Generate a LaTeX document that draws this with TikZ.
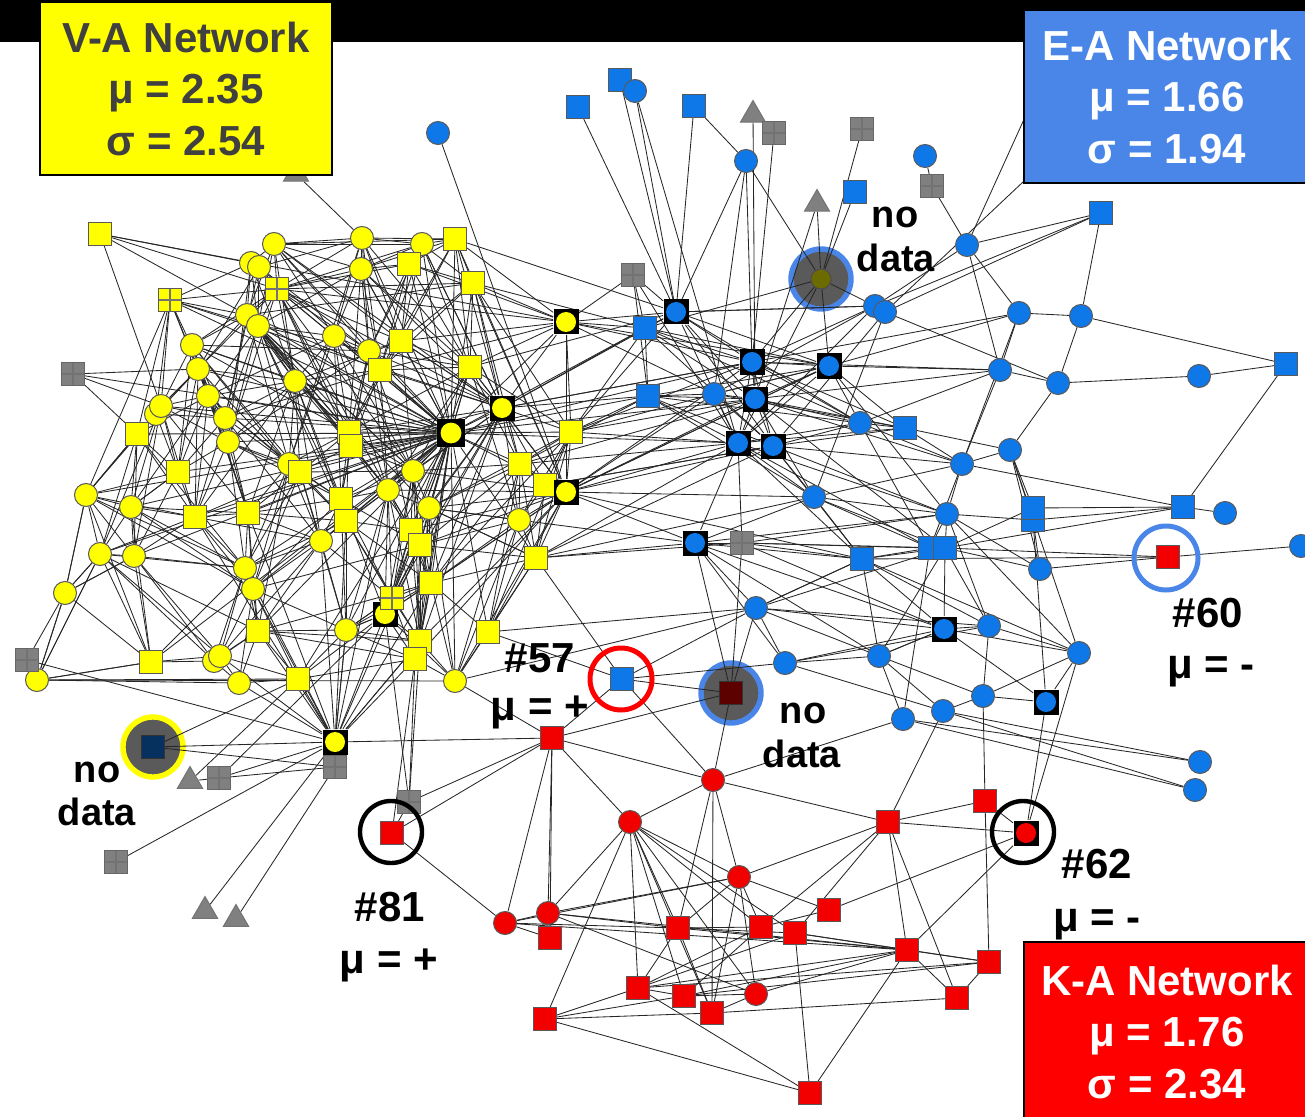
\documentclass[tikz,border=0pt]{standalone}
\usepackage{fontspec}
\setmainfont{Liberation Sans}
\usetikzlibrary{shapes.geometric}
\pgfdeclarelayer{back}\pgfdeclarelayer{edges}\pgfdeclarelayer{front}
\pgfsetlayers{back,edges,main,front}
\definecolor{nodeY}{HTML}{FFFF00}
\definecolor{nodeB}{HTML}{0F78E8}
\definecolor{nodeR}{HTML}{F20000}
\definecolor{boxB}{HTML}{4A86E8}
\definecolor{gridG}{HTML}{808080}
\definecolor{discG}{HTML}{5A5A5A}
\definecolor{oliveD}{HTML}{6B6B00}
\definecolor{navyD}{HTML}{06305E}
\definecolor{maroonD}{HTML}{5C0000}
\definecolor{txtG}{HTML}{404040}
\tikzset{
 nd/.style={inner sep=0pt, line width=0.5pt, draw=black!65},
 sq/.style={nd, rectangle, minimum size=11.5pt},
 ci/.style={nd, circle, minimum size=11.5pt},
 gridlines/.style={path picture={\draw[black!55,line width=0.6pt] (path picture bounding box.north)--(path picture bounding box.south) (path picture bounding box.west)--(path picture bounding box.east);}},
 ysq/.style={sq, fill=nodeY},
 yci/.style={ci, fill=nodeY},
 ygr/.style={sq, fill=nodeY, gridlines},
 bsq/.style={sq, fill=nodeB},
 bci/.style={ci, fill=nodeB},
 rsq/.style={sq, fill=nodeR},
 rci/.style={ci, fill=nodeR},
 gr/.style={sq, fill=gridG, draw=black!60, gridlines},
 tri/.style={regular polygon, regular polygon sides=3, fill=gridG, draw=black!55, line width=0.5pt, minimum size=14.5pt, inner sep=0pt},
 blk/.style={rectangle, fill=black, minimum size=12.5pt, inner sep=0pt},
 yblk/.style={blk, path picture={\fill[nodeY] (path picture bounding box.center) circle (5pt);}},
 ybig/.style={blk, minimum size=14pt, path picture={\fill[nodeY] (path picture bounding box.center) circle (5.2pt);}},
 bblk/.style={blk, path picture={\fill[nodeB] (path picture bounding box.center) circle (5pt);}},
 rblk/.style={blk, path picture={\fill[nodeR] (path picture bounding box.center) circle (5pt);}},
 ndisc/.style={circle, fill=discG, line width=2.7pt, minimum size=30pt, inner sep=0pt},
 ring/.style={circle, line width=2.5pt, minimum size=31pt, inner sep=0pt},
 lnk/.style={draw=black!85, line width=0.42pt},
 lbl/.style={font=\bfseries\fontsize{21}{21}\selectfont, inner sep=0pt, anchor=base},
 lbs/.style={font=\bfseries\fontsize{19}{19}\selectfont, inner sep=0pt, anchor=base},
 boxn/.style={draw=black, line width=0.8pt, align=center, font=\bfseries\fontsize{21}{25.75}\selectfont, inner sep=0pt}
}
\begin{document}
\begin{tikzpicture}[x=0.5pt,y=-0.5pt]
\useasboundingbox (0,0) rectangle (1305,1117);
\begin{pgfonlayer}{back}
\fill[white] (0,0) rectangle (1305,1117);
\end{pgfonlayer}
% ---------------- yellow (V-A) nodes
\node[ysq] (y1) at (100,234) {};
\node[yci] (y2) at (274,244) {};
\node[yci] (y3) at (362,238) {};
\node[yci] (y4) at (422,244) {};
\node[ysq] (y5) at (455,239) {};
\node[yci] (y6) at (251,263) {};
\node[yci] (y7) at (259,267) {};
\node[ysq] (y8) at (409,264) {};
\node[yci] (y9) at (361,269) {};
\node[ygr] (y10) at (277,289) {};
\node[ysq] (y11) at (473,283) {};
\node[ygr] (y12) at (170,300) {};
\node[yci] (y13) at (247,315) {};
\node[yci] (y14) at (258,326) {};
\node[yblk] (y15) at (566,322) {};
\node[yci] (y16) at (192,345) {};
\node[ysq] (y17) at (401,341) {};
\node[yci] (y18) at (334,336) {};
\node[yci] (y19) at (198,369) {};
\node[yci] (y20) at (208,396) {};
\node[yci] (y21) at (369,351) {};
\node[ysq] (y22) at (380,370) {};
\node[ysq] (y23) at (470,367) {};
\node[yci] (y24) at (295,381) {};
\node[yblk] (y25) at (502,408) {};
\node[yci] (y74) at (156,414) {};
\node[yci] (y26) at (161,406) {};
\node[yci] (y27) at (225,418) {};
\node[yci] (y28) at (228,442) {};
\node[ysq] (y29) at (137,434) {};
\node[ybig] (y30) at (451,433) {};
\node[ysq] (y31) at (349,432) {};
\node[ysq] (y32) at (351,446) {};
\node[ysq] (y33) at (571,432) {};
\node[yci] (y34) at (289,464) {};
\node[ysq] (y35) at (300,472) {};
\node[ysq] (y36) at (178,472) {};
\node[yci] (y37) at (413,471) {};
\node[ysq] (y38) at (520,464) {};
\node[ysq] (y39) at (545,485) {};
\node[yblk] (y40) at (566,492) {};
\node[yci] (y41) at (86,495) {};
\node[yci] (y42) at (131,507) {};
\node[ysq] (y43) at (195,517) {};
\node[ysq] (y44) at (248,513) {};
\node[ysq] (y46) at (341,499) {};
\node[ysq] (y45) at (346,521) {};
\node[yci] (y47) at (388,490) {};
\node[yci] (y48) at (429,508) {};
\node[yci] (y49) at (519,520) {};
\node[yci] (y50) at (321,541) {};
\node[ysq] (y51) at (411,530) {};
\node[ysq] (y52) at (420,545) {};
\node[yci] (y53) at (100,554) {};
\node[yci] (y54) at (134,556) {};
\node[yci] (y55) at (245,568) {};
\node[yci] (y56) at (253,589) {};
\node[ysq] (y57) at (431,583) {};
\node[ysq] (y58) at (536,558) {};
\node[yblk] (y60) at (385,614) {};
\node[ygr] (y59) at (392,598) {};
\node[yci] (y61) at (65,593) {};
\node[ysq] (y62) at (258,631) {};
\node[yci] (y63) at (346,630) {};
\node[ysq] (y64) at (420,641) {};
\node[ysq] (y65) at (415,659) {};
\node[ysq] (y66) at (488,632) {};
\node[ysq] (y67) at (151,662) {};
\node[yci] (y75) at (214,661) {};
\node[yci] (y68) at (220,656) {};
\node[yci] (y69) at (239,683) {};
\node[ysq] (y70) at (298,679) {};
\node[yci] (y71) at (455,681) {};
\node[yci] (y72) at (37,680) {};
\node[yblk] (y73) at (335,742) {};
% gray nodes left
\node[gr] (g1) at (73,374) {};
\node[gr] (g2) at (27,660) {};
\node[gr] (g3) at (335,767) {};
\node[gr] (g4) at (219,778) {};
\node[gr] (g5) at (116,862) {};
\node[gr] (g6) at (409,802) {};
\node[tri] (t1) at (296,174) {};
\node[tri] (t2) at (190,781) {};
\node[tri] (t3) at (205,911) {};
\node[tri] (t4) at (236,919) {};
\node[sq, fill=navyD, draw=black!80] (nd1) at (153,747) {};
% ---------------- blue (E-A) nodes
\node[bci] (b0) at (438,133) {};
\node[bsq] (b1) at (620,80) {};
\node[bci] (b2) at (635,91) {};
\node[bsq] (b3) at (578,107) {};
\node[bsq] (b4) at (694,106) {};
\node[tri] (bt1) at (753,115) {};
\node[gr] (bg1) at (774,133) {};
\node[gr] (bg2) at (862,129) {};
\node[bci] (b5) at (746,161) {};
\node[bci] (b6) at (925,156) {};
\node[gr] (bg3) at (932,186) {};
\node[bsq] (b7) at (855,192) {};
\node[tri] (bt2) at (817,204) {};
\node[bsq] (b8) at (1101,213) {};
\node[bci] (b9) at (967,245) {};
\node[gr] (bg4) at (633,275) {};
\node[ci, fill=oliveD, draw=black!70, minimum size=10pt] (nd2) at (821,279) {};
\node[bci] (b10) at (875,306) {};
\node[bci] (b11) at (885,312) {};
\node[bblk] (b12) at (676,312) {};
\node[bsq] (b13) at (645,328) {};
\node[bci] (b14) at (1019,313) {};
\node[bci] (b15) at (1081,316) {};
\node[bblk] (b16) at (752,362) {};
\node[bblk] (b17) at (829,366) {};
\node[bsq] (b18) at (1286,364) {};
\node[bci] (b19) at (1000,370) {};
\node[bci] (b20) at (1058,383) {};
\node[bci] (b21) at (1199,376) {};
\node[bsq] (b23) at (648,396) {};
\node[bci] (b24) at (714,394) {};
\node[bblk] (b25) at (755,399) {};
\node[bci] (b26) at (860,423) {};
\node[bsq] (b27) at (905,428) {};
\node[bblk] (b28) at (738,443) {};
\node[bblk] (b29) at (773,446) {};
\node[bci] (b30) at (962,464) {};
\node[bci] (b31) at (1010,450) {};
\node[bci] (b32) at (814,497) {};
\node[bci] (b33) at (947,514) {};
\node[bsq] (b35) at (1033,520) {};
\node[bsq] (b34) at (1033,508) {};
\node[bsq] (b36) at (1183,507) {};
\node[bci] (b37) at (1225,513) {};
\node[bblk] (b38) at (695,543) {};
\node[gr] (bg5) at (742,543) {};
\node[bsq] (b39) at (862,559) {};
\node[bsq] (b40) at (930,548) {};
\node[bsq] (b41) at (945,548) {};
\node[bci] (b42) at (1040,569) {};
\node[bci] (b43) at (1301,546) {};
\node[bci] (b44) at (756,608) {};
\node[bblk] (b45) at (944,629) {};
\node[bci] (b46) at (989,626) {};
\node[bci] (b47) at (1079,653) {};
\node[bci] (b48) at (879,656) {};
\node[bci] (b49) at (785,663) {};
\node[bsq] (b57) at (622,679) {};
\node[sq, fill=maroonD, draw=black!80] (nd3) at (731,693) {};
\node[bci] (b50) at (983,696) {};
\node[bblk] (b51) at (1046,702) {};
\node[bci] (b52) at (943,711) {};
\node[bci] (b53) at (903,719) {};
\node[bci] (b54) at (1200,762) {};
\node[bci] (b55) at (1195,790) {};
\coordinate (hid1) at (1060,40);
\coordinate (hid2) at (1110,100);
% ---------------- red (K-A) nodes
\node[rsq] (r60) at (1168,557) {};
\node[rsq] (rs1) at (552,738) {};
\node[rci] (rb) at (713,780) {};
\node[rci] (rc) at (630,822) {};
\node[rsq] (rd) at (888,822) {};
\node[rsq] (re) at (985,801) {};
\node[rblk] (r62) at (1026,833) {};
\node[rsq] (r81) at (392,833) {};
\node[rci] (rf) at (739,877) {};
\node[rsq] (rs4) at (829,910) {};
\node[rci] (rc4) at (505,923) {};
\node[rsq] (rs5) at (550,938) {};
\node[rci] (rc5) at (548,913) {};
\node[rsq] (rs6) at (678,928) {};
\node[rsq] (rs7) at (761,927) {};
\node[rsq] (rs8) at (795,933) {};
\node[rsq] (rs9) at (907,950) {};
\node[rsq] (rs10) at (989,962) {};
\node[rsq] (rs11) at (638,988) {};
\node[rsq] (rs12) at (684,996) {};
\node[rci] (rc6) at (756,994) {};
\node[rsq] (rs13) at (712,1013) {};
\node[rsq] (rs14) at (957,998) {};
\node[rsq] (rs15) at (545,1019) {};
\node[rsq] (rs16) at (810,1093) {};
% ---------------- "no data" discs and rings
\begin{pgfonlayer}{back}
\node[ndisc, draw=nodeY] at (nd1) {};
\node[ndisc, draw=boxB] at (nd2) {};
\node[ndisc, draw=boxB] at (nd3) {};
\end{pgfonlayer}
\node[ring, draw=red] (ring57) at (621,679) {};
\node[ring, draw=black, line width=2.2pt] (ring81) at (391,832) {};
\node[ring, draw=black, line width=2.2pt] (ring62) at (1023,832) {};
\node[ring, draw=boxB, minimum width=31pt, minimum height=32pt] (ring60) at (1166,558) {};
% ---------------- connectors
\begin{pgfonlayer}{edges}
\foreach \a/\l in {
 y30/{y2,y3,y4,y5,y7,y8,y9,y10,y11,y12,y13,y14,y16,y17,y18,y19,y20,y21,y22,y23,y24,y25,y26,y27,y28,y29,y31,y32,y33,y34,y35,y36,y37,y38,y40,y41,y42,y43,y44,y45,y46,y47,y48,y50,y51,y52,y53,y54,y55,y56,y57,y59,y60,y62,y63,y64,y65,y66,y67,y70,y71,y15,y58,g1,b16,b23,b25,b28,b13},
 y1/{y10,y13,y15,y26,y6},
 y2/{y3,y9,y10,y6,y13,y21,y17,y14,y24,y18},
 y3/{y4,y5,y9,y10,y7,y22,y18,y34,t1,y17,y21,y23},
 y4/{y5,y8,y11,y10,y9,y17,y25,y2,y22,y23,y21},
 y5/{y11,y8,y23,y25,y40,y9,b12,y2,y17,y22,y15},
 y6/{y7,y10,y12,y13,y14,y24,y28},
 y7/{y10,y14,y19,y21,y27},
 y8/{y11,y9,y17,y10,y15,y22,y23,y21},
 y9/{y10,y17,y21,y14,y18,y23,y22,y31},
 y10/{y12,y13,y14,y16,y17,y18,y21,y24,y19,y28,y11,y15,y25,y31,y32,y37,y47},
 y11/{y15,y25,y17,y23,y33,y13,b13,y22,y38,y40},
 y12/{y26,y19,y29,y27,y20,y41,y13,y14,y74,y25},
 y13/{y14,y16,y19,y24,y27,y34,y22,y31,y32,y37,y47,y48},
 y14/{y20,y18,y24,y27,y28,y31,y35,y21,y37,y45,y46,y47},
 y15/{y25,y33,y40,y23,b12,b13,bg4,b16,b24,y17,y22},
 y16/{y19,y20,y26,y28,y36,y21,y24,y31,y35,y34,y44},
 y17/{y21,y22,y23,y31,y37,y25,y24},
 y18/{y21,y24,y31,y34,y22,y20,y37,y46,y47},
 y19/{y20,y26,y27,y29,y36,g1,y74,y24,y28,y34,y43,y44},
 y20/{y26,y27,y28,y29,y36,y42,y24,y34,y35,y43,y44,y50},
 y21/{y22,y23,y31,y32,y37,y28,y46,y47,y51},
 y22/{y23,y31,y32,y24,y47,y27},
 y23/{y25,y31,y37,y38,y48,y33,y40,y47,y49,y51},
 y24/{y27,y28,y31,y34,y35,y44,y43,y45,y46,y50},
 y25/{y33,y38,y40,y37,y48,y49,y39,b13,b23,b16,y2,y4,y9,y17,y21,y22,y31,y32,y47,y51,y52,y57,y60,y65},
 y26/{y29,y36,y41,y42,y28,y27,g1,y74,y43,y44,y53,y54},
 y27/{y28,y34,y36,y43,y44,y74},
 y28/{y34,y35,y36,y43,y44,y55,y46},
 y29/{y36,y41,y42,y53,g1,y74,y43,y54,y55},
 y31/{y32,y34,y35,y37,y46,y45,y24},
 y32/{y35,y37,y46,y47,y51,y24},
 y33/{y38,y39,y40,y49,y58,b23,b13,b28,b24,y57,y66,y48},
 y34/{y35,y44,y46,y50,y56,y45,y55,y62},
 y35/{y44,y46,y45,y50,y43,y37,y55,y56,y63},
 y36/{y41,y42,y43,y54,y74},
 y37/{y47,y48,y51,y52,y38,y46,y57,y59,y60,y64},
 y38/{y39,y40,y48,y49,y58,y66,b23,y57,y71,y52},
 y39/{y40,y49,y58,b29},
 y40/{y49,y58,y66,y71,y48,b32,b38,b39,b29,b17,b0,y37,y47,y51,y52,y57,y60,y64,y65},
 y41/{y42,y53,y61,y54,y74,y55,y56,y67,y43},
 y42/{y43,y53,y54,y36,y44,y55,y67,y56},
 y43/{y44,y54,y55,y56,y53,y50},
 y44/{y45,y50,y55,y56,y62,y46},
 y45/{y46,y47,y50,y51,y63,y55,y57,y59,y64},
 y46/{y47,y50,y52,y56,y59,y60,y63},
 y47/{y48,y51,y52,y57,y59,y50,y60,y64,y63},
 y48/{y51,y52,y49,y57,y60,y58,y64,y65,y71},
 y49/{y58,y57,y66,y52,b38,y71,y48},
 y50/{y55,y56,y62,y63,y59,y68},
 y51/{y52,y57,y59,y60,y64},
 y52/{y57,y59,y60,y64,y65,y56},
 y53/{y54,y61,y72,y67,y55,y68,y75,y62},
 y54/{y55,y67,y61,y68,y75},
 y55/{y56,y62,y68,y67,y75},
 y56/{y62,y68,y69,y63,y70},
 y57/{y59,y60,y64,y65,y66,y71},
 y58/{y66,y71,y57,b32,b38,b57,y48,y52,bg5},
 y59/{y60,y63,y64,y65},
 y60/{y63,y64,y65,y70,y71,y73},
 y61/{y72,g2,y67,y53,y54,y41},
 y62/{y63,y68,y69,y70,y75,y64,y65,y57},
 y63/{y64,y70,y65,y57,y59,y60,y73},
 y64/{y65,y71,y73},
 y65/{y71,y73,y70},
 y66/{y71,b57,b44},
 y67/{y68,y72,y75},
 y68/{y69,y70},
 y69/{y70,y75},
 y70/{y73},
 y72/{y71,g2,y53,y61,y67,y69,y70},
 y71/{b44,rs1},
 y73/{y62,y63,y68,y69,y56,y50,g3,rs1,y52,y57,y64,y47,y45,y44,y43,y55},
 nd1/{y73,y70},
 t2/{g4,y70},
 g4/{y73,g3,y60},
 g5/{y73},
 t3/{y73},
 t4/{g3},
 g3/{nd1},
 g2/{y73},
 b1/{b12,b2},
 b2/{b12,b28},
 b3/{b12},
 b4/{b12,b5},
 b5/{nd2,b12,b24,b16},
 bt1/{b25},
 bg1/{b16},
 bg2/{nd2},
 b6/{bg3},
 bg3/{b9},
 b7/{nd2},
 bt2/{nd2,b25},
 b8/{b9,b10,b15,b11},
 b9/{b14,b10,b19,hid1},
 b11/{hid2,b29,b32,b20},
 b10/{b12,b16,b24,b28},
 nd2/{b13,b16,b28,b17,b10},
 b14/{b15,b19,b30},
 b15/{b18,b20},
 b19/{b20,b26,b30},
 b20/{b21,b31},
 b21/{b18},
 b12/{b13,b16,b17,b25,b28,b29,bg4,y25,y33,y23,b26,b10},
 bg4/{b13,b23,b28},
 b13/{b23,b25,b16,b17,b29,b26},
 b16/{b17,b25,b28,b29,b26,y25,y33,y40,b27,b14,b19},
 b17/{b26,b27,b24,b25,b14,b19,b33,y15,y40},
 b23/{b24,b25,b28,b17,b29,b32,b26},
 b24/{b25,b28,y40,b17,b29,b27},
 b25/{b28,b29,b27,b32,b41,y38,y33,y40,b26,b30,b19},
 b26/{b27,b30,b40},
 b27/{b30,b31},
 b28/{b39,y38,y58,y40,b17,b26,b27,b33,b40},
 b29/{b33,y39,y58,b26,b27,b30,b39},
 b30/{b31,b33,b40,b36},
 b31/{b34,b47,b35,b42},
 b32/{b38,b39,b28,b29,b40,b41,b30,b33},
 b38/{bg5,b44,b49,b39,b28,b45,b48,b33},
 bg5/{b39,b40,b28,b45,b41,b33},
 b39/{b40,b41,b44,b48,b45,b46,b47},
 b40/{b33,b53},
 b41/{b33,b34,b36,b42,b45,b46,b48},
 b33/{b42,b46,b47},
 b34/{b36},
 b35/{b36,b33,b42,b51},
 b36/{b37,b18},
 r60/{b43,b42,b41,b39},
 b44/{b57,b49,b48,b46,b45,b39,b41},
 b45/{b46,b48,b47,b51},
 b46/{b47,b50},
 b47/{b50,b51},
 b48/{b53,b52,b49,b50,b45},
 b49/{b57,b45,b46,b52},
 b50/{b52,b51,re},
 b52/{b54,b55,rd},
 b53/{b55,b54,rb},
 b51/{r62},
 b57/{nd3,rs1,rb},
 nd3/{b44,b38,rb,rs1,bg5},
 rs1/{g6,r81,rb,rc,rc5,rs5,rc4},
 rb/{rc,rd,rf,rs6,rs13},
 rc/{rf,rs6,rs12,rs13,rs7,rc6,rs11,rs15,rc5,rs8},
 rd/{re,r62,rf,rs9,rs14,rs7,rs8},
 re/{r62,rs10},
 r62/{rs4,b47,rs9},
 rf/{rs4,rs6,rs7,rc6,rs13,rc4,rc5},
 rs4/{rs7},
 rc4/{r81,rs5,rs6,rc5,rs9},
 rc5/{rs6,rc6,rs9},
 rs6/{rs7,rs8,rs9,rs11,rs13},
 rs7/{rs11,rs12},
 rs8/{rs9,rs10,rs16,rs11},
 rs9/{rs10,rs11,rs12,rc6,rs14,rs16},
 rs10/{rs14,rs12,rs11},
 rs14/{rs13},
 rs11/{rs15,rs12,rs16},
 rs15/{rs13,rs16,rs12},
 rc6/{rs13,rs12},
 g6/{y64,y65,y60,r81},
 r81/{y65}}
 {\foreach \b in \l {\draw[lnk] (\a) -- (\b);}}
\end{pgfonlayer}
% ---------------- frame, boxes and labels
\begin{pgfonlayer}{front}
\fill[black] (0,0) rectangle (1305,42);
\node[boxn, fill=nodeY, text=txtG, minimum width=146pt, minimum height=86.5pt] (vabox) at (186,88.5) {V-A Network\\μ = 2.35\\σ = 2.54};
\node[boxn, fill=boxB, text=white, minimum width=143pt, minimum height=86.5pt] (eabox) at (1167,96.5) {E-A Network\\μ = 1.66\\σ = 1.94};
\node[boxn, fill=red, text=white, minimum width=143pt, minimum height=90pt] (kabox) at (1167,1032) {K-A Network\\μ = 1.76\\σ = 2.34};
\node[lbs] (ndt1) at (895,228) {no};
\node[lbs] (ndt2) at (896,272) {data};
\node[lbl] (l57a) at (540,672) {\#57};
\node[lbl] (l57b) at (540,720) {μ = +};
\node[lbl] (l60a) at (1208,627) {\#60};
\node[lbl] (l60b) at (1211,678) {μ = -};
\node[lbs] (ndm1) at (803,723) {no};
\node[lbs] (ndm2) at (802,767) {data};
\node[lbs] (ndl1) at (97,782) {no};
\node[lbs] (ndl2) at (97,825) {data};
\node[lbl] (l81a) at (390,921) {\#81};
\node[lbl] (l81b) at (389,973) {μ = +};
\node[lbl] (l62a) at (1097,878) {\#62};
\node[lbl] (l62b) at (1097,931) {μ = -};
\end{pgfonlayer}
\end{tikzpicture}
\end{document}
